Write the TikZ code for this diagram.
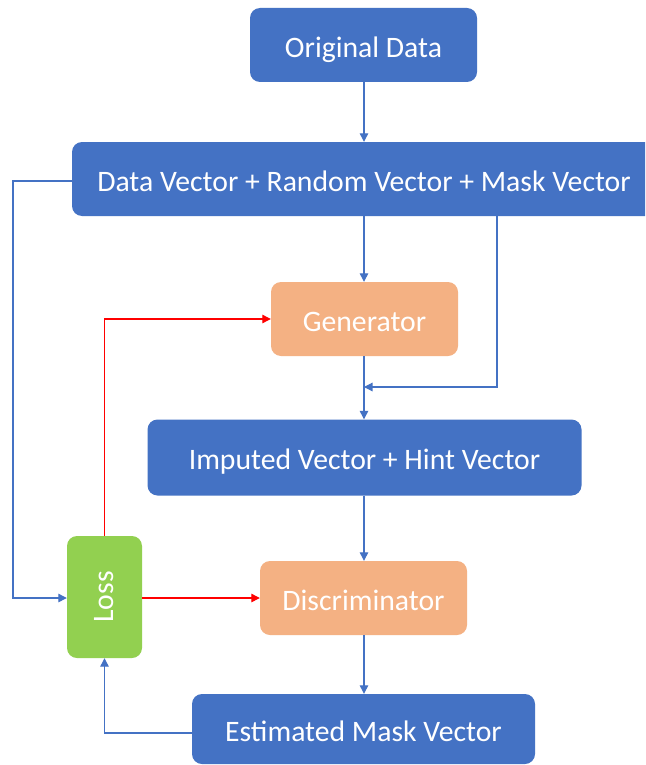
\documentclass[tikz,border=0pt]{standalone}
\usepackage{fontspec}
\setmainfont{Carlito}
\usetikzlibrary{arrows.meta,calc}
\definecolor{boxblue}{HTML}{4472C4}
\definecolor{boxorange}{HTML}{F4B183}
\definecolor{boxgreen}{HTML}{92D050}
\definecolor{linkred}{HTML}{FF0000}
\tikzset{
  box/.style={rounded corners=10pt, draw=none, text=white, inner sep=0pt,
    text height=26pt, text depth=1.4pt,
    font=\fontsize{29.7}{34}\selectfont},
  bluebox/.style={box, fill=boxblue},
  orangebox/.style={box, fill=boxorange},
  greenbox/.style={box, fill=boxgreen, text height=, text depth=},
  flow/.style={draw=boxblue, line width=1.2pt, -{Triangle[length=8.5pt,width=8.5pt]}},
  flowred/.style={draw=linkred, line width=1.2pt, -{Triangle[length=8.5pt,width=8.5pt]}},
}
\begin{document}
\begin{tikzpicture}[x=1pt,y=-1pt]
\useasboundingbox (0,0) rectangle (645,765);
\clip (0,0) rectangle (645,765);
\fill[white] (0,0) rectangle (645,765);

% boxes
\node[bluebox, minimum width=227pt, minimum height=74pt] (orig) at (363.5,45) {Original Data};
\node[bluebox, minimum width=584pt, minimum height=74pt] (dv) at (364,179) {Data Vector + Random Vector + Mask Vector};
\node[orangebox, minimum width=187pt, minimum height=74pt] (gen) at (364.5,319) {Generator};
\node[bluebox, minimum width=434pt, minimum height=76pt] (imp) at (364.5,457.5) {Imputed Vector + Hint Vector};
\node[orangebox, minimum width=207pt, minimum height=74pt] (disc) at (363.5,598) {Discriminator};
\node[greenbox, minimum width=75pt, minimum height=122pt] (loss) at (104.5,597) {\rotatebox{90}{Loss}};
\node[bluebox, minimum width=343pt, minimum height=70pt] (est) at (363.5,729) {Estimated Mask Vector};

% junction points
\coordinate (dvtap) at (497,216);
\coordinate (merge) at (364,387);

% main chain
\draw[flow] (orig.south -| 364,0) -- (dv.north -| 364,0);
\draw[flow] (dv.south -| 364,0) -- (gen.north -| 364,0);
\draw[flow] (gen.south -| 364,0) -- (imp.north -| 364,0);
\draw[flow] (imp.south -| 364,0) -- (disc.north -| 364,0);
\draw[flow] (disc.south -| 364,0) -- (est.north -| 364,0);

% mask vector bypass into the generator output
\draw[flow] (dvtap) |- (merge);

% data vector to loss
\draw[flow] (dv.west |- 0,181) -- (13,181) |- (loss.west |- 0,598);

% estimated mask to loss
\draw[flow] (est.west |- 0,733) -| (loss.south);

% loss feedback
\draw[flowred] (loss.north) |- (gen.west);
\draw[flowred] (loss.east |- 0,598) -- (disc.west |- 0,598);
\end{tikzpicture}
\end{document}
